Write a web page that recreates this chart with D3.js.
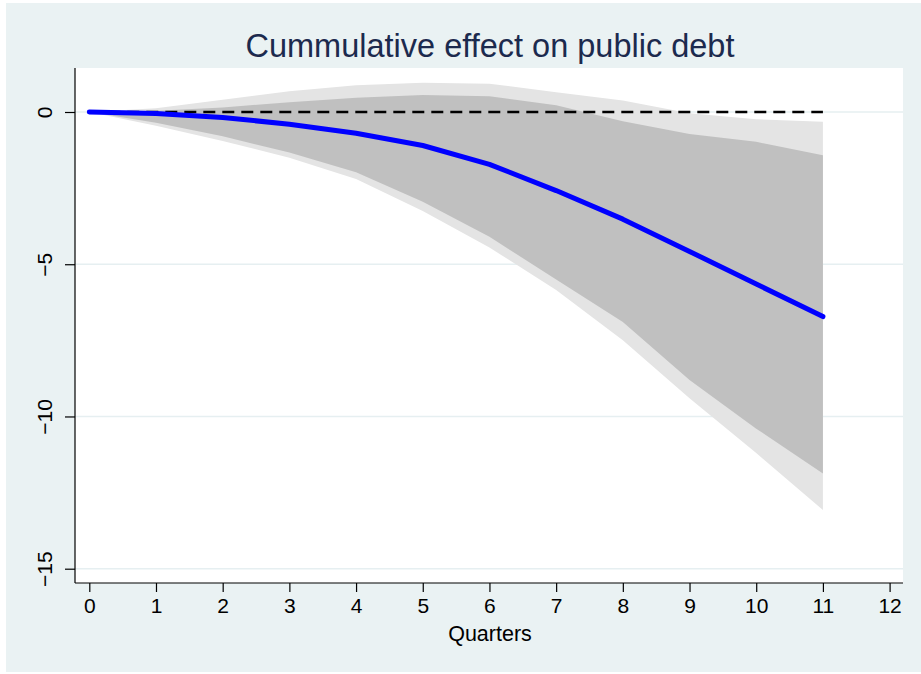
<!DOCTYPE html>
<html>
<head>
<meta charset="utf-8">
<script src="https://cdn.jsdelivr.net/npm/d3@7"></script>
<style>
  body { margin: 0; background: #fff; }
  svg text { font-family: "Liberation Sans Narrow", "Arial Narrow", "Liberation Sans", Arial, sans-serif; }
  svg text.title { font-family: "Liberation Sans", Arial, sans-serif; }
</style>
</head>
<body>
<svg id="chart"></svg>
<script>
// data
const quarters = [0, 1, 2, 3, 4, 5, 6, 7, 8, 9, 10, 11];
const effect = [0, -0.05, -0.18, -0.4, -0.7, -1.1, -1.72, -2.58, -3.52, -4.58, -5.65, -6.72];
const innerUpper = [0, 0.04, 0.15, 0.32, 0.47, 0.56, 0.52, 0.22, -0.3, -0.72, -0.98, -1.42];
const innerLower = [0, -0.35, -0.8, -1.33, -1.98, -2.95, -4.1, -5.5, -6.9, -8.8, -10.4, -11.87];
const outerUpper = [0, 0.12, 0.4, 0.68, 0.88, 0.96, 0.93, 0.65, 0.38, -0.04, -0.24, -0.32];
const outerLower = [0, -0.45, -0.95, -1.5, -2.2, -3.25, -4.45, -5.85, -7.5, -9.4, -11.2, -13.07];
const xTicks = [0, 1, 2, 3, 4, 5, 6, 7, 8, 9, 10, 11, 12];
const yTicks = [0, -5, -10, -15];

const width = 921;
const height = 674;
const plot = { left: 75, right: 903, top: 68, bottom: 583 };

const svg = d3.select('svg#chart').attr('width', width).attr('height', height);

// outer background + plot area
svg.append('rect').attr('x', 6).attr('y', 3).attr('width', 915).attr('height', 669).attr('fill', '#eaf2f3');
svg.append('rect').attr('x', plot.left).attr('y', plot.top)
  .attr('width', plot.right - plot.left).attr('height', plot.bottom - plot.top).attr('fill', '#ffffff');

const x = d3.scaleLinear().domain([0, 12]).range([89.3, 889.6]);
const y = d3.scaleLinear().domain([0, -15]).range([112, 568.7]);

// gridlines
svg.append('g').selectAll('line').data(yTicks).enter().append('line')
  .attr('x1', plot.left).attr('x2', plot.right)
  .attr('y1', d => y(d)).attr('y2', d => y(d))
  .attr('stroke', '#e6eff1').attr('stroke-width', 1.5);

const rows = quarters.map((q, i) => ({
  q: q, m: effect[i], iu: innerUpper[i], il: innerLower[i], ou: outerUpper[i], ol: outerLower[i]
}));

const outerArea = d3.area().x(d => x(d.q)).y0(d => y(d.ol)).y1(d => y(d.ou));
const innerArea = d3.area().x(d => x(d.q)).y0(d => y(d.il)).y1(d => y(d.iu));

svg.append('path').datum(rows).attr('d', outerArea).attr('fill', '#e4e4e4');
svg.append('path').datum(rows).attr('d', innerArea).attr('fill', '#c0c0c0');

// zero reference line
svg.append('line')
  .attr('x1', x(0)).attr('x2', x(11)).attr('y1', y(0)).attr('y2', y(0))
  .attr('stroke', '#000').attr('stroke-width', 2.5).attr('stroke-dasharray', '12,7');

const line = d3.line().x(d => x(d.q)).y(d => y(d.m));
svg.append('path').datum(rows).attr('d', line)
  .attr('fill', 'none').attr('stroke', '#0000ff').attr('stroke-width', 5)
  .attr('stroke-linejoin', 'round').attr('stroke-linecap', 'round');

// axes
const xAxis = d3.axisBottom(x).tickValues(xTicks).tickSize(9).tickPadding(6).tickFormat(d3.format('d'));
const xg = svg.append('g').attr('transform', 'translate(0,' + plot.bottom + ')').call(xAxis);
xg.select('.domain').attr('d', 'M' + plot.left + ',0H' + plot.right).attr('stroke', '#000').attr('stroke-width', 1.2);
xg.selectAll('.tick line').attr('stroke', '#000').attr('stroke-width', 1.2);
xg.selectAll('.tick text').attr('font-size', 21).attr('fill', '#000');

const yAxis = d3.axisLeft(y).tickValues(yTicks).tickSize(10).tickFormat(d3.format('d'));
const yg = svg.append('g').attr('transform', 'translate(' + plot.left + ',0)').call(yAxis);
yg.select('.domain').attr('d', 'M0,' + plot.top + 'V' + plot.bottom).attr('stroke', '#000').attr('stroke-width', 1.2);
yg.selectAll('.tick line').attr('stroke', '#000').attr('stroke-width', 1.2);
yg.selectAll('.tick text').attr('font-size', 21).attr('fill', '#000')
  .attr('x', null)
  .attr('text-anchor', 'middle')
  .attr('transform', 'translate(-30,0) rotate(-90)')
  .attr('dy', '0.35em');

// labels
svg.append('text').attr('x', 490).attr('y', 633).attr('text-anchor', 'middle')
  .attr('dy', '0.35em').attr('font-size', 21.5).attr('fill', '#000').text('Quarters');

svg.append('text').attr('class', 'title').attr('x', 490).attr('y', 56.5).attr('text-anchor', 'middle')
  .attr('font-size', 32.5).attr('fill', '#1c2a4e')
  .text('Cummulative effect on public debt');
</script>
</body>
</html>
